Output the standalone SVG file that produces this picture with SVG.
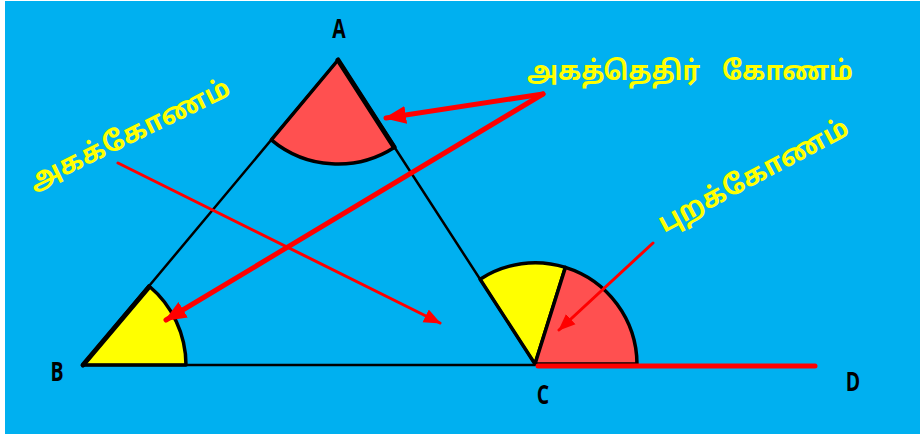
<svg xmlns="http://www.w3.org/2000/svg" width="920" height="437" viewBox="0 0 920 437">
<style>
.edge{stroke:#000;stroke-width:2.5;fill:none;stroke-linecap:round}
.thick{stroke:#000;stroke-width:5;fill:none;stroke-linecap:round}
.sector{stroke:#000;stroke-width:3.5;stroke-linejoin:round}
.red{fill:#FF5050}
.yel{fill:#FFFF00}
.arr{stroke:#FF0000;fill:none;stroke-linecap:round}
.pt{font-family:"Open Sans","Noto Sans",sans-serif;font-weight:bold;font-size:27px;fill:#000;text-anchor:middle}
.ta{font-family:"Noto Sans Tamil","Lohit Tamil","Latha","Noto Sans",sans-serif;font-weight:bold;font-size:27px;fill:#FFFF00}
</style>
<defs>
<marker id="hBig" markerUnits="userSpaceOnUse" markerWidth="24" markerHeight="20" refX="20" refY="10" orient="auto">
<path d="M0,1 L22,10 L0,19 z" fill="#FF0000"/>
</marker>
<marker id="hSmall" markerUnits="userSpaceOnUse" markerWidth="18" markerHeight="16" refX="16" refY="8" orient="auto">
<path d="M0,1 L17,8 L0,15 z" fill="#FF0000"/>
</marker>
</defs>
<rect x="5" y="1" width="915" height="433" fill="#00B0F0"/>

<g id="angle-A">
<path class="sector red" d="M338,60 L394.6,147.3 A104,104 0 0 1 271.3,139.8 Z"/>
</g>
<g id="angle-B">
<path class="sector yel" d="M83,365 L186,365 A103,103 0 0 0 149,286 Z"/>
</g>
<g id="angle-C-yellow">
<path class="sector yel" d="M535,364 L565.4,267.4 A101,101 0 0 0 480.1,279.2 Z"/>
</g>
<g id="angle-C-red">
<path class="sector red" d="M535,364 L637,364 A102,102 0 0 0 565.4,267.4 Z"/>
</g>

<g id="triangle">
<line class="edge" x1="338" y1="60" x2="83" y2="365"/>
<line class="edge" x1="338" y1="60" x2="535" y2="364"/>
<line class="edge" x1="83" y1="365" x2="535" y2="365"/>
<line class="thick" x1="338" y1="60" x2="394" y2="147"/>
<line class="thick" x1="83" y1="365" x2="149" y2="287"/>
</g>

<g id="connectors">
<line class="arr" stroke-width="5" x1="538" y1="366" x2="815" y2="366"/>
<line class="arr" stroke-width="5" x1="543" y1="94" x2="386" y2="118" marker-end="url(#hBig)"/>
<line class="arr" stroke-width="5" x1="543" y1="94" x2="166" y2="320" marker-end="url(#hBig)"/>
<line class="arr" stroke-width="3" x1="118" y1="163" x2="440" y2="323" marker-end="url(#hSmall)"/>
<line class="arr" stroke-width="3" x1="653" y1="243" x2="559" y2="330" marker-end="url(#hSmall)"/>
</g>

<g id="labels">
<text class="pt" transform="translate(339,38) scale(0.72,1)">A</text>
<text class="pt" transform="translate(57,381) scale(0.72,1)">B</text>
<text class="pt" transform="translate(543,404) scale(0.72,1)">C</text>
<text class="pt" transform="translate(853,391) scale(0.72,1)">D</text>
</g>

<g id="label-interior-opposite">
<text class="ta" x="527" y="80" font-size="28"><tspan textLength="173" lengthAdjust="spacingAndGlyphs">அகத்தெதிர்</tspan><tspan x="722" textLength="131" lengthAdjust="spacingAndGlyphs">கோணம்</tspan></text>
</g>
<g id="label-interior">
<text class="ta" transform="translate(34,191) rotate(-26)">அகக்கோணம்</text>
</g>
<g id="label-exterior">
<text class="ta" transform="translate(664,233) rotate(-28)">புறக்கோணம்</text>
</g>
</svg>
